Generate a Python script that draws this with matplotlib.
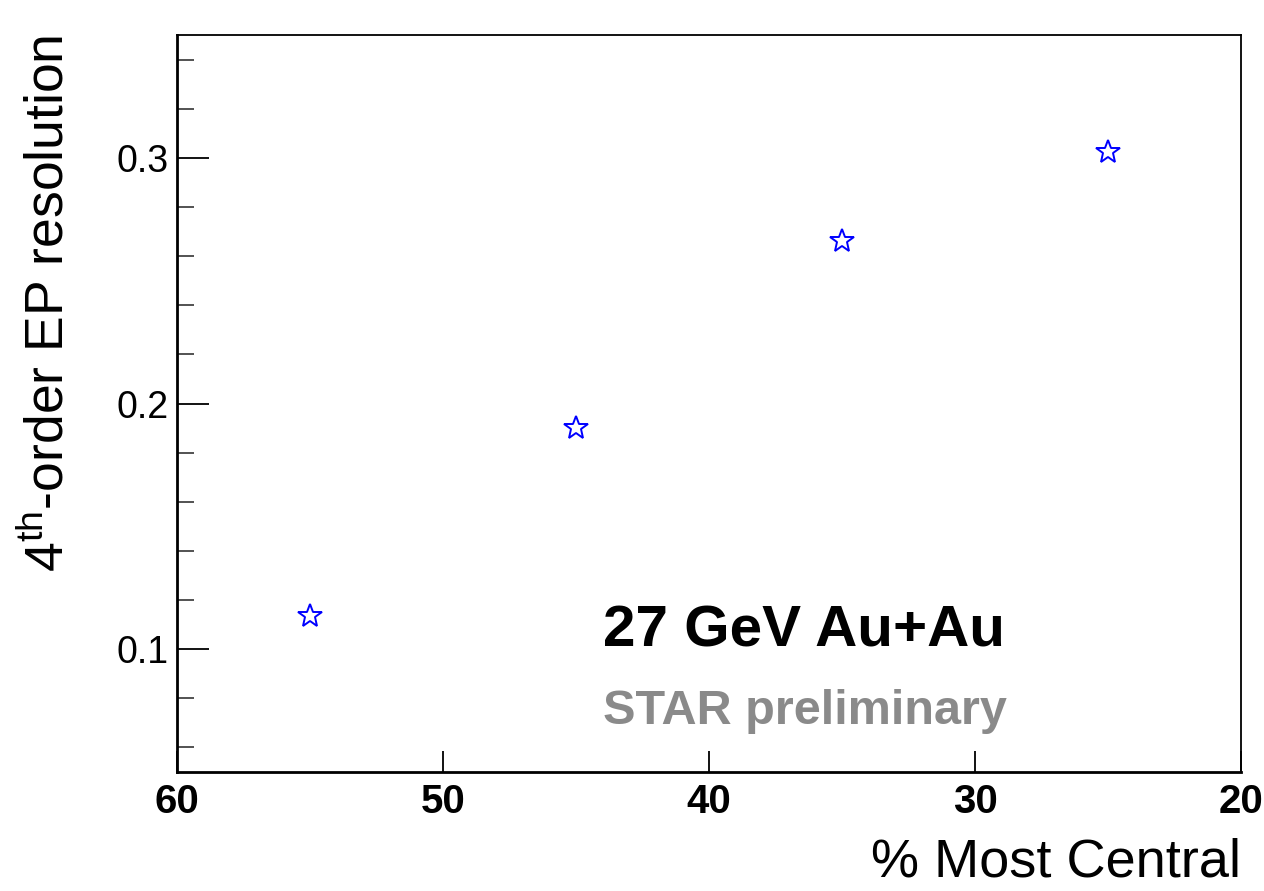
import matplotlib
matplotlib.use("Agg")
import matplotlib.pyplot as plt
from matplotlib.ticker import MultipleLocator

plt.rcParams['font.family'] = 'Liberation Sans'
plt.rcParams['mathtext.fontset'] = 'custom'
plt.rcParams['mathtext.rm'] = 'Liberation Sans'

# centrality bin centres and 4th-order EP resolution
centrality = [55, 45, 35, 25]
resolution = [0.1135, 0.190, 0.266, 0.3025]

fig = plt.figure(figsize=(12.64, 8.91), dpi=100)
ax = fig.add_axes([0.140, 0.1336, 0.842, 0.827])

ax.plot(centrality, resolution, linestyle='none', marker='*', markersize=18,
        mfc='none', mec='#0000ff', mew=1.4)

ax.set_xlim(60, 20)
ax.set_ylim(0.05, 0.35)
ax.set_xticks([60, 50, 40, 30, 20])
ax.yaxis.set_major_locator(MultipleLocator(0.1))
ax.yaxis.set_minor_locator(MultipleLocator(0.02))

ax.tick_params(axis='y', which='major', direction='in', length=23, width=1.3,
               labelsize=27, pad=6)
ax.tick_params(axis='y', which='minor', direction='in', length=12, width=1.3,
               color='#444444')
ax.tick_params(axis='x', which='major', direction='in', length=15, width=1.3,
               labelsize=29, pad=8)
for lab in ax.get_xticklabels():
    lab.set_fontweight('bold')

for s in ['left', 'bottom']:
    ax.spines[s].set_linewidth(2.0)
for s in ['top', 'right']:
    ax.spines[s].set_linewidth(1.3)

ax.set_xlabel('% Most Central', fontsize=39, loc='right', labelpad=12)
ax.set_ylabel(r'4$^{\mathrm{th}}$-order EP resolution', fontsize=38.5,
              loc='top', labelpad=30)

ax.text(0.400, 0.191, '27 GeV Au+Au', transform=ax.transAxes, fontsize=42,
        fontweight='bold', va='center', ha='left')
ax.text(0.400, 0.082, 'STAR preliminary', transform=ax.transAxes, fontsize=35,
        fontweight='bold', color='#8a8a8a', va='center', ha='left')

fig.savefig('out.png', dpi=100)
